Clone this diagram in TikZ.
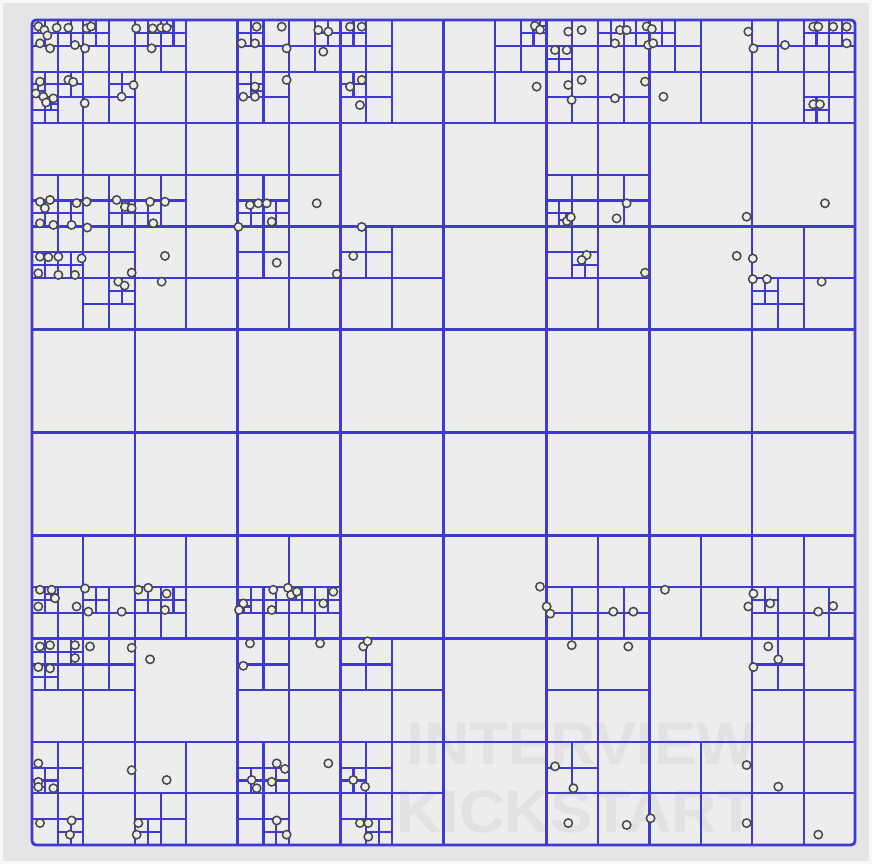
\documentclass[tikz,border=0pt]{standalone}
\usepackage{fontspec}
\newfontfamily\wmfont{Liberation Sans}
\definecolor{qblue}{RGB}{64,58,208}
\definecolor{outbg}{RGB}{229,229,231}
\definecolor{cellbg}{RGB}{237,237,237}
\definecolor{edgec}{RGB}{247,247,249}
\definecolor{ptc}{RGB}{72,72,72}
\definecolor{wmc}{RGB}{226,226,226}
\tikzset{
  qline/.style={draw=qblue, line width=2.1pt},
  qlinemain/.style={draw=qblue, line width=2.6pt},
  qpt/.style={draw=ptc, line width=1.5pt, fill=cellbg},
  wmtext/.style={text=wmc, font=\wmfont\bfseries\fontsize{60}{68}\selectfont, inner sep=0pt, align=right},
}
\newcount\qn
\newif\ifqsplit
\def\qappend#1{\ifx#1\empty\xdef#1{\qp/\qq}\else\xdef#1{#1,\qp/\qq}\fi}
\def\qtcell#1#2#3#4#5{%
  \begingroup
  \pgfmathsetmacro\qmx{#1+#3/2}%
  \pgfmathsetmacro\qmy{#2+#3/2}%
  \pgfmathsetmacro\qhs{#3/2}%
  \pgfmathtruncatemacro\qnd{#4+1}%
  \def\qlist{#5}%
  \global\qn=0
  \ifx\qlist\empty\else
    \foreach \qp/\qq in \qlist {\global\advance\qn by 1\relax}%
  \fi
  \qsplitfalse
  \ifnum#4<3 \qsplittrue\def\qsty{qlinemain}\else\def\qsty{qline}\fi
  \ifnum\qn>1 \ifnum#4<7 \qsplittrue\fi\fi
  \ifqsplit
    \draw[\qsty] (\qmx,#2) -- ++(0,#3) (#1,\qmy) -- ++(#3,0);
    \gdef\gA{}\gdef\gB{}\gdef\gC{}\gdef\gD{}%
    \ifx\qlist\empty\else
      \foreach \qp/\qq in \qlist {%
        \ifdim\qp pt<\qmx pt
          \ifdim\qq pt<\qmy pt \qappend\gA\else\qappend\gC\fi
        \else
          \ifdim\qq pt<\qmy pt \qappend\gB\else\qappend\gD\fi
        \fi}%
    \fi
    \let\lA\gA \let\lB\gB \let\lC\gC \let\lD\gD
    \edef\qnext{\noexpand\qtcell{#1}{#2}{\qhs}{\qnd}{\lA}%
      \noexpand\qtcell{\qmx}{#2}{\qhs}{\qnd}{\lB}%
      \noexpand\qtcell{#1}{\qmy}{\qhs}{\qnd}{\lC}%
      \noexpand\qtcell{\qmx}{\qmy}{\qhs}{\qnd}{\lD}}%
    \qnext
  \fi
  \endgroup}
\def\allpts{%
0.5/0.5,0.96/0.78,1.92/0.6,2.83/0.6,4.25/0.65,4.6/0.5,0.62/1.81,1.2/1.2,1.4/2.2,3.34/1.94,4.12/2.2,%
0.62/4.78,2.83/4.65,3.2/4.8,0.3/5.7,0.88/5.95,1.66/6.08,1.1/6.4,4.1/6.45,6.97/5.95,7.9/5.05,%
8.1/0.65,9.38/0.65,10.05/0.6,10.47/0.6,9.3/2.2,%
0.62/14.1,1.4/13.96,1.0/14.6,3.47/14.2,4.25/14.1,6.58/13.96,7.23/14.5,7.75/14.6,0.62/15.77,1.66/15.9,3.08/15.9,%
9.18/14.1,10.34/14.1,9.43/15.77,%
17.47/0.52,19.42/0.52,22.26/0.78,23.04/0.9,16.3/1.81,17.34/1.81,19.8/2.2,22.65/2.46,19.8/4.65,17.34/5.17,16.43/5.95,17.34/5.95,%
24.73/0.52,25.64/0.52,24.73/5.17,25.64/4.65,25.5/6.6,%
16.95/14.35,17.6/14.22,18.25/14.22,18.64/15.65,22.14/14.22,%
39.1/0.45,39.5/0.75,39.24/5.17,%
41.7/0.9,42.74/0.78,40.67/2.33,41.58/2.33,45.72/0.78,46.24/0.78,47.8/0.5,45.33/1.81,47.92/1.94,41.7/5.04,42.74/4.65,41.96/6.2,45.33/6.07,47.67/4.78,%
46.24/14.22,41.6/15.6,41.9/15.3,45.46/15.39,%
48.2/0.7,48.3/1.8,49.1/5.95,55.7/0.9,%
56.1/2.2,58.55/1.94,60.75/0.52,61.14/0.52,62.3/0.52,63.35/0.52,63.35/1.81,60.75/6.54,61.27/6.54,%
55.57/15.26,61.66/14.22,%
0.62/18.36,1.27/18.4,2.05/18.36,3.86/18.49,0.49/19.65,2.05/19.78,3.34/19.78,7.75/19.6,4.3/16.1,6.71/20.3,7.2/20.6,%
10.34/18.3,10.08/20.3,%
16.05/16.05,19.03/18.83,23.7/19.7,%
25.64/16.05,24.98/18.3,%
43.13/18.23,42.74/18.62,47.67/19.6,%
54.8/18.3,%
56.05/18.5,56.05/20.1,57.15/20.1,61.4/20.3,%
0.62/44.2,1.53/44.2,1.79/44.86,0.49/45.5,3.47/45.5,4.12/44.1,4.38/45.9,6.97/45.9,%
8.27/44.2,9.04/44.05,10.47/44.5,10.34/45.77,%
18.76/44.2,19.9/44.05,20.15/44.6,20.6/44.35,23.43/44.35,16.43/45.26,16.1/45.77,18.64/45.77,22.65/45.26,%
39.5/43.96,%
40.02/45.5,40.3/46.05,45.2/45.9,46.76/45.9,%
49.22/44.2,55.7/45.5,%
56.1/44.5,57.4/45.26,61.14/45.9,62.3/45.46,%
0.62/48.6,1.4/48.5,3.34/48.5,3.34/49.5,0.49/50.2,1.4/50.3,4.51/48.6,7.75/48.7,%
9.18/49.6,%
16.95/48.36,16.43/50.1,22.4/48.36,%
25.76/48.6,26.1/48.2,%
41.97/48.5,46.37/48.6,%
57.25/48.6,58.03/49.6,56.1/50.2,%
0.49/57.67,0.49/59.1,0.49/59.5,1.66/59.6,0.62/62.3,3.08/62.1,2.95/63.2,7.75/58.2,%
10.47/58.96,8.27/62.3,8.14/63.2,%
19.03/57.67,19.67/58.1,17.08/58.96,17.47/59.6,18.64/59.1,19.03/62.1,19.8/63.2,23.04/57.67,%
24.98/58.96,25.9/59.48,25.5/62.3,26.15/62.3,26.15/63.36,%
40.67/57.9,42.1/59.6,41.7/62.3,46.24/62.45,%
48.1/61.93,55.57/57.8,55.57/62.3,%
58.03/59.48,61.14/63.2}
\begin{document}
\begin{tikzpicture}[x=1pt,y=-1pt]
\useasboundingbox (0,0) rectangle (872,864);
\fill[outbg] (0,0) rectangle (872,864);
\draw[edgec, line width=3pt] (1.5,1.5) rectangle (870.5,862.5);
\begin{scope}[shift={(32,20)}, x=12.86pt, y=-12.89pt]
  \fill[cellbg, rounded corners=4pt] (0,0) rectangle (64,64);
  \node[wmtext, xscale=1.05] (wm) at (42.3,58.8) {INTERVIEW\\KICKSTART};
  \edef\qstart{\noexpand\qtcell{0}{0}{64}{0}{\allpts}}%
  \qstart
  \draw[qblue, line width=2.8pt, rounded corners=4pt] (0,0) rectangle (64,64);
  \foreach \qp/\qq in \allpts {\draw[qpt] (\qp,\qq) circle[radius=4.2pt];}
\end{scope}
\end{tikzpicture}
\end{document}
